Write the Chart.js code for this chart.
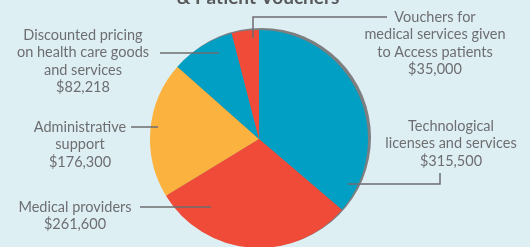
<!DOCTYPE html>
<html>
<head>
<meta charset="utf-8">
<script src="https://cdn.jsdelivr.net/npm/chart.js@4/dist/chart.umd.min.js"></script>
<style>
  html, body { margin: 0; padding: 0; background: #deeff4; overflow: hidden; }
  #wrap { width: 530px; height: 260px; }
</style>
</head>
<body>
<div id="wrap"><canvas id="pie" width="530" height="260"></canvas></div>
<script>
// data, clockwise from 12 o'clock
const categories = [
  'Technological licenses and services',
  'Medical providers',
  'Administrative support',
  'Discounted pricing on health care goods and services',
  'Vouchers for medical services given to Access patients'
];
const amounts = [315500, 261600, 176300, 82218, 35000];
const amountLabels = ['$315,500', '$261,600', '$176,300', '$82,218', '$35,000'];
const sliceColors = ['#009fc3', '#f04a39', '#fbb23f', '#009fc3', '#f04a39'];

const textColor = '#6d6e71';
const font = '14.5px Lato, "Open Sans", sans-serif';

// callout layout, offsets from the pie centre (px)
const callouts = [
  { lines: ['Technological', 'licenses and services', '$315,500'], tx: 192, ty: -13,
    path: [[89, 45], [181, 45], [181, 34]] },
  { lines: ['Medical providers', '$261,600'], tx: -184, ty: 68,
    path: [[-48, 68], [-119, 68]] },
  { lines: ['Administrative', 'support', '$176,300'], tx: -179, ty: -12,
    path: [[-101, -12], [-128, -12]] },
  { lines: ['Discounted pricing', 'on health care goods', 'and services', '$82,218'], tx: -176, ty: -104,
    path: [[-40, -86], [-99, -86]] },
  { lines: ['Vouchers for', 'medical services given', 'to Access patients', '$35,000'], tx: 176, ty: -122,
    path: [[-6, -101], [-6, -122], [128, -122]] }
];

const decor = {
  id: 'decor',
  beforeDatasetsDraw(chart) {
    const arc = chart.getDatasetMeta(0).data[0];
    const ctx = chart.ctx;
    ctx.save();
    ctx.fillStyle = '#7d7e80';
    ctx.beginPath();
    ctx.arc(arc.x + 2.5, arc.y - 1.5, arc.outerRadius + 0.5, 0, Math.PI * 2);
    ctx.fill();
    ctx.restore();
  },
  afterDatasetsDraw(chart) {
    const arc = chart.getDatasetMeta(0).data[0];
    const cx = arc.x, cy = arc.y;
    const ctx = chart.ctx;
    ctx.save();
    // cut-off title
    ctx.fillStyle = '#58595b';
    ctx.font = 'bold 19px Lato, "Open Sans", sans-serif';
    ctx.textAlign = 'center';
    ctx.textBaseline = 'alphabetic';
    ctx.fillText('& Patient Vouchers', 258, 4);

    ctx.strokeStyle = textColor;
    ctx.lineWidth = 1.5;
    ctx.fillStyle = textColor;
    ctx.font = font;
    ctx.textBaseline = 'middle';
    callouts.forEach(c => {
      ctx.beginPath();
      c.path.forEach((p, i) => {
        const x = cx + p[0], y = cy + p[1];
        if (i === 0) ctx.moveTo(x, y); else ctx.lineTo(x, y);
      });
      ctx.stroke();
      c.lines.forEach((t, i) => {
        ctx.fillText(t, cx + c.tx, cy + c.ty + i * 17.6);
      });
    });
    ctx.restore();
  }
};

new Chart(document.getElementById('pie'), {
  type: 'pie',
  data: {
    labels: categories,
    datasets: [{
      data: amounts,
      backgroundColor: sliceColors,
      borderWidth: 0
    }]
  },
  options: {
    responsive: false,
    animation: false,
    layout: { padding: { top: 30, bottom: 12, left: 0, right: 12 } },
    plugins: {
      legend: { display: false },
      tooltip: { enabled: false },
      title: { display: false }
    }
  },
  plugins: [decor]
});
</script>
</body>
</html>
